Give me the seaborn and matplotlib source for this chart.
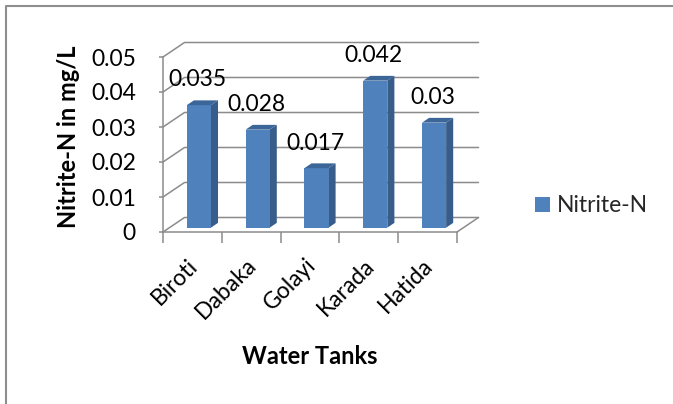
import numpy as np
import pandas as pd
import matplotlib
matplotlib.use("Agg")
import matplotlib.pyplot as plt
import seaborn as sns
from matplotlib.transforms import ScaledTranslation, IdentityTransform
from matplotlib.patches import Polygon, Patch
from matplotlib.lines import Line2D

# Nitrite-N measured in each water tank (mg/L)
tanks = ["Biroti", "Dabaka", "Golayi", "Karada", "Hatida"]
nitrite = [0.035, 0.028, 0.017, 0.042, 0.03]
y_ticks = [0, 0.01, 0.02, 0.03, 0.04, 0.05]
series_name = "Nitrite-N"
x_title = "Water Tanks"
y_title = "Nitrite-N in mg/L"

sns.set_theme(style="white")
plt.rcParams["font.family"] = ["Lato", "DejaVu Sans"]

W, H, DPI = 673, 404, 100
FRONT = "#4F81BD"
SIDE = "#385D8A"
TOP = "#3C6698"
GRID = "#8C8C8C"
FS = 16.5
FS_TITLE = 17

# depth of the 3-D box (pixels, display orientation) and bar depth band
DX, DY = 21.5, 14.5
D0, D1 = 0.30, 0.63

fig = plt.figure(figsize=(W / DPI, H / DPI), dpi=DPI)
fig.patch.set_facecolor("white")
ax = fig.add_axes([163 / W, 172 / H, 294 / W, 175 / H])
ax.set_facecolor("none")

df = pd.DataFrame({x_title: tanks, series_name: nitrite})
sns.barplot(data=df, x=x_title, y=series_name, color=FRONT, saturation=1,
            width=0.41, ax=ax, zorder=3, legend=False)
n = len(tanks)
ax.set_xlim(-0.5, n - 0.5)
ax.set_ylim(y_ticks[0], y_ticks[-1])
ax.set_yticks(y_ticks)
ax.set_yticklabels([f"{t:g}" for t in y_ticks])

px = 72 / DPI  # points per pixel


def proj(x, y, d):
    """Data point on the front plane pushed back by depth fraction d."""
    return ax.transData.transform((x, y)) + d * np.array([DX, DY])


ident = IdentityTransform()

# walls: gridlines run along the left wall and across the back wall
for t in y_ticks:
    pts = np.array([proj(-0.5, t, 0), proj(-0.5, t, 1), proj(n - 0.5, t, 1)])
    ax.add_line(Line2D(pts[:, 0], pts[:, 1], transform=ident, color=GRID,
                       lw=1.1, zorder=1, clip_on=False))
# right edge of the floor
pts = np.array([proj(n - 0.5, 0, 0), proj(n - 0.5, 0, 1)])
ax.add_line(Line2D(pts[:, 0], pts[:, 1], transform=ident, color=GRID,
                   lw=1.1, zorder=1, clip_on=False))

# turn the flat bars into prisms
front_shift = ScaledTranslation(D0 * DX / DPI, D0 * DY / DPI, fig.dpi_scale_trans)
for bar in ax.patches:
    x0 = bar.get_x()
    x1 = x0 + bar.get_width()
    h = bar.get_height()
    bar.set_transform(ax.transData + front_shift)
    bar.set_clip_on(False)
    bar.set_edgecolor("none")
    side = [proj(x1, 0, D0), proj(x1, h, D0), proj(x1, h, D1), proj(x1, 0, D1)]
    top = [proj(x0, h, D0), proj(x1, h, D0), proj(x1, h, D1), proj(x0, h, D1)]
    ax.add_patch(Polygon(side, closed=True, transform=ident, fc=SIDE,
                         ec="none", zorder=2.9, clip_on=False))
    ax.add_patch(Polygon(top, closed=True, transform=ident, fc=TOP,
                         ec="none", zorder=3.1, clip_on=False))
    ax.annotate(f"{h:g}", xy=(x0 + bar.get_width() / 2, h),
                xytext=(5 * px, 23 * px), textcoords="offset points",
                ha="center", va="baseline", fontsize=FS, color="black",
                zorder=5, annotation_clip=False)

# axes lines and ticks
sns.despine(ax=ax, top=True, right=True)
for s in ("left", "bottom"):
    ax.spines[s].set_color(GRID)
    ax.spines[s].set_linewidth(1.1)
    ax.spines[s].set_zorder(4)

ax.tick_params(axis="y", which="major", direction="out", length=3, width=1.1,
               color=GRID, pad=23 * px, labelsize=FS, labelcolor="black", left=True)
ax.set_xticks(np.arange(-0.5, n), minor=True)
ax.tick_params(axis="x", which="minor", direction="out", length=8, width=1.1,
               color=GRID, bottom=True)
ax.tick_params(axis="x", which="major", length=0, pad=30 * px,
               labelsize=FS, labelcolor="black")
xshift = ScaledTranslation(2 / DPI, 0, fig.dpi_scale_trans)
for lab in ax.get_xticklabels():
    lab.set_rotation(45)
    lab.set_ha("right")
    lab.set_va("center")
    lab.set_rotation_mode("anchor")
    lab.set_transform(lab.get_transform() + xshift)

ax.set_xlabel(x_title, fontsize=FS_TITLE, fontweight="bold", color="black")
ax.xaxis.set_label_coords(0.5, -0.754)
ax.xaxis.label.set_va("baseline")
ax.set_ylabel(y_title, fontsize=FS_TITLE, fontweight="bold", color="black")
ax.yaxis.set_label_coords(-0.322, 0.546)
ax.yaxis.label.set_va("center")

fig.legend(handles=[Patch(facecolor=FRONT, edgecolor="none", label=series_name)],
           loc="center left", bbox_to_anchor=(535 / W, 1 - 206 / H),
           frameon=False, fontsize=FS, handlelength=0.65, handleheight=0.65,
           handletextpad=0.3, borderpad=0, borderaxespad=0)

# chart area frame (top and left edges)
fig.add_artist(Line2D([6 / W, 6 / W, 1], [0, 1 - 6 / H, 1 - 6 / H],
                      transform=fig.transFigure, color="#8E8E8E", lw=1.5))

fig.savefig("out.png", dpi=DPI, facecolor="white")
